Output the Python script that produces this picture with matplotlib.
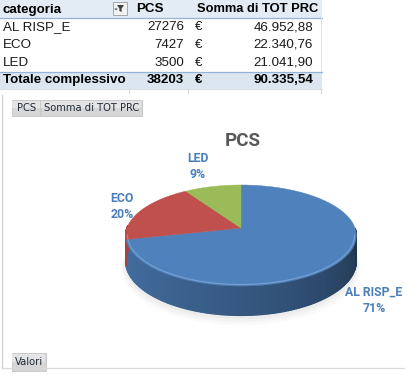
import numpy as np
import matplotlib
matplotlib.use("Agg")
import matplotlib.pyplot as plt
from matplotlib.patches import Rectangle, Polygon
from matplotlib.collections import PolyCollection

# ---------------- data ----------------
categories = ["AL RISP_E", "ECO", "LED"]
pcs = [27276, 7427, 3500]
tot_prc = [46952.88, 22340.76, 21041.90]
col_headers = ["categoria", "PCS", "Somma di TOT PRC"]
total_label = "Totale complessivo"
chart_title = "PCS"
button_labels = ["PCS", "Somma di TOT PRC"]
values_button = "Valori"
slice_colors = ["#4F81BD", "#C0504D", "#9BBB59"]


def fmt_it(v):
    s = f"{v:,.2f}"
    return s.replace(",", "X").replace(".", ",").replace("X", ".")


def pct_labels(vals):
    tot = sum(vals)
    raw = [100.0 * v / tot for v in vals]
    fl = [int(np.floor(r)) for r in raw]
    rem = 100 - sum(fl)
    order = sorted(range(len(vals)), key=lambda i: raw[i] - fl[i], reverse=True)
    for i in order[:rem]:
        fl[i] += 1
    return [f"{p}%" for p in fl]


W, H = 406, 375
fig = plt.figure(figsize=(W / 100, H / 100), dpi=100)
ax = fig.add_axes([0, 0, 1, 1])
ax.set_xlim(0, W)
ax.set_ylim(H, 0)
ax.axis("off")

tfont = "Liberation Sans"
tsize = 9.6
cfont = "Roboto"

# ---------------- pivot table ----------------
row_h = 17.8
hdr_bg = "#E3EBF5"
tot_bg = "#DCE6F1"
ax.add_patch(Rectangle((0, 0), 322, 17.5, facecolor=hdr_bg, edgecolor="none"))
ax.plot([0, 322], [17.5, 17.5], color="#95B3D7", lw=0.9)
ax.plot([321.5, 321.5], [18, 71], color="#E4E4E4", lw=0.8)

# filter button
ax.add_patch(Rectangle((113, 1.5), 14, 13.5, facecolor="#F2F2F2", edgecolor="#A6A6A6", lw=0.7))
ax.add_patch(Polygon([[117, 5], [124, 5], [121.6, 8.5], [121.6, 12], [119.4, 11], [119.4, 8.5]],
                     closed=True, facecolor="#404040", edgecolor="none"))
ax.add_patch(Polygon([[114.5, 8.5], [117.5, 8.5], [116, 10.5]], closed=True,
                     facecolor="#404040", edgecolor="none"))

x_cat, x_pcs, x_eur, x_val = 3, 184, 195, 313
yh = 9.5
ax.text(x_cat, yh, col_headers[0], fontsize=tsize, fontweight="bold", family=tfont, va="center")
ax.text(136, yh, col_headers[1], fontsize=tsize, fontweight="bold", family=tfont, va="center")
ax.text(197, yh, col_headers[2], fontsize=tsize - 0.3, fontweight="bold", family=tfont, va="center")

for i, (c, p, v) in enumerate(zip(categories, pcs, tot_prc)):
    y = 27 + i * row_h
    ax.text(x_cat, y, c, fontsize=tsize, family=tfont, va="center", color="#1a1a1a")
    ax.text(x_pcs, y, str(p), fontsize=tsize, family=tfont, va="center", ha="right", color="#1a1a1a")
    ax.text(x_eur, y, "€", fontsize=tsize, family=tfont, va="center", color="#1a1a1a")
    ax.text(x_val, y, fmt_it(v), fontsize=tsize, family=tfont, va="center", ha="right", color="#1a1a1a")

ax.add_patch(Rectangle((0, 71.5), 322, 17, facecolor=tot_bg, edgecolor="none"))
ax.plot([0, 322], [71.5, 71.5], color="#95B3D7", lw=0.9)
yt = 80
ax.text(x_cat, yt, total_label, fontsize=tsize, fontweight="bold", family=tfont, va="center")
ax.text(x_pcs, yt, str(sum(pcs)), fontsize=tsize, fontweight="bold", family=tfont, va="center", ha="right")
ax.text(x_eur, yt, "€", fontsize=tsize, fontweight="bold", family=tfont, va="center")
ax.text(x_val, yt, fmt_it(sum(tot_prc)), fontsize=tsize, fontweight="bold", family=tfont, va="center", ha="right")

# grid stubs below table
ax.plot([0, 322], [89, 89], color="#E0E0E0", lw=0.8)
for xg in (129.5, 188.5, 321.5):
    ax.plot([xg, xg], [88.5, 93], color="#DADADA", lw=0.8)

# ---------------- chart area ----------------
ax.plot([2.5, 2.5], [95, 368], color="#D0D0D0", lw=0.9)
ax.plot([2.5, W], [368, 368], color="#D9D9D9", lw=0.9)


def button(x0, x1, y0, y1, label):
    ax.add_patch(Rectangle((x0, y0), x1 - x0, y1 - y0, facecolor="#D6D6D6", edgecolor="#C4C4C4", lw=0.6))
    ax.add_patch(Rectangle((x0 + 0.5, y0 + 0.5), x1 - x0 - 1, (y1 - y0) * 0.45,
                           facecolor="#E4E4E4", edgecolor="none"))
    ax.text((x0 + x1) / 2, (y0 + y1) / 2 + 0.3, label, fontsize=7.2, family="DejaVu Sans",
            ha="center", va="center", color="#1F2A36")


button(12, 40.5, 100, 116, button_labels[0])
button(41, 142, 100, 116, button_labels[1])
button(12, 46, 353, 371, values_button)

ax.text(243, 141, chart_title, fontsize=13.5, fontweight="bold", family=cfont,
        ha="center", va="center", color="#595959")

# ---------------- 3D pie ----------------
cx, cy = 241.0, 228.0
R, S, k, T = 114.0, 49.4, 0.1486, 25.0


def proj(theta, r=1.0, h=0.0):
    x = r * np.cos(theta)
    y = r * np.sin(theta)
    d = 1 + k * y
    return cx + R * x / d, cy - S * y / d + h * T / d


total = float(sum(pcs))
fracs = [p / total for p in pcs]
starts, ends = [], []
a = np.pi / 2
for f in fracs:
    starts.append(a)
    a -= 2 * np.pi * f
    ends.append(a)

# soft shadow
th_all = np.linspace(0, 2 * np.pi, 200)
for i, (off, al) in enumerate([(7, 0.04), (5, 0.05), (3, 0.06)]):
    bx, by = proj(th_all, 1.0 + 0.012 * (3 - i), 1.0)
    ax.add_patch(Polygon(np.column_stack([bx, by + off]), closed=True,
                         facecolor="#808080", edgecolor="none", alpha=al))


def shade(color, fac):
    rgb = np.array(matplotlib.colors.to_rgb(color))
    return tuple(np.clip(rgb * fac, 0, 1))


# side ribbon (front half only)
quads, qcols = [], []
for col, s, e in zip(slice_colors, starts, ends):
    th = np.linspace(e, s, 200)
    for t0, t1 in zip(th[:-1], th[1:]):
        tm = (t0 + t1) / 2
        tm_n = np.mod(tm, 2 * np.pi)
        if not (np.pi - 0.05 <= tm_n <= 2 * np.pi + 0.05):
            continue
        u = np.clip((tm_n - np.pi) / np.pi, 0, 1)
        fac = 0.86 - 0.46 * u ** 1.4
        x0a, y0a = proj(t0)
        x1a, y1a = proj(t1)
        x0b, y0b = proj(t0, 1, 1)
        x1b, y1b = proj(t1, 1, 1)
        quads.append([[x0a, y0a], [x1a, y1a], [x1b, y1b], [x0b, y0b]])
        qcols.append(shade(col, fac))
ax.add_collection(PolyCollection(quads, facecolors=qcols, edgecolors=qcols, linewidths=1.0))

# top faces
for col, s, e in zip(slice_colors, starts, ends):
    th = np.linspace(s, e, 120)
    px, py = proj(th)
    pts = np.vstack([[cx, cy], np.column_stack([px, py])])
    ax.add_patch(Polygon(pts, closed=True, facecolor=col, edgecolor=col, lw=0.3))

# bevel highlight along front rim
th = np.linspace(np.pi * 1.05, np.pi * 1.95, 120)
hx, hy = proj(th, 0.985)
ax.plot(hx, hy - 0.5, color="#9DBBE0", lw=0.8, alpha=0.55)

# data labels
labels = pct_labels(pcs)
label_pos = [(374, 292), (122, 199), (198, 158)]
for (lx, ly), c, pl in zip(label_pos, categories, labels):
    ax.text(lx, ly, c, fontsize=8.8, fontweight="bold", family=cfont, ha="center",
            va="center", color="#4A7EBB")
    ax.text(lx, ly + 16, pl, fontsize=8.8, fontweight="bold", family=cfont, ha="center",
            va="center", color="#4A7EBB")

fig.savefig("out.png", dpi=100)
